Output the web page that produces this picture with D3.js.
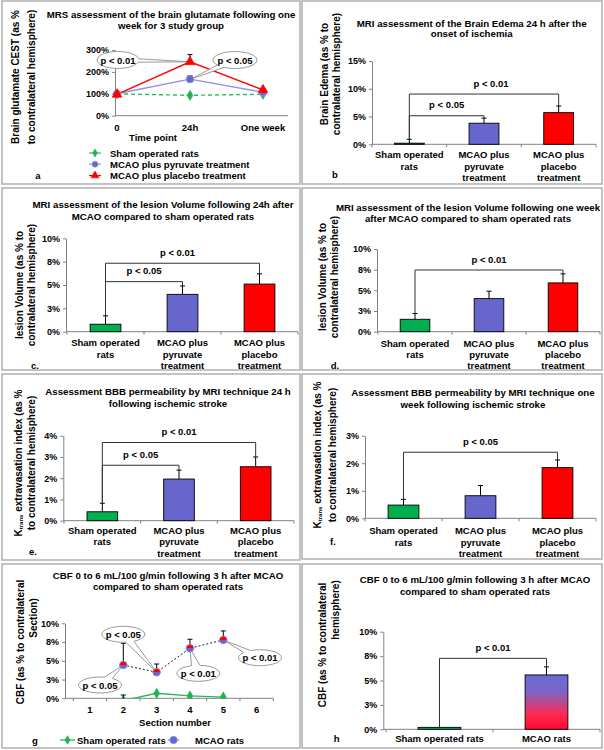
<!DOCTYPE html>
<html><head><meta charset="utf-8">
<script src="https://cdn.jsdelivr.net/npm/d3@7"></script>
<style>body{margin:0;background:#fff}svg{display:block}</style>
</head><body><svg id="c" width="604" height="750"></svg>
<script>
// ---------------- DATA ----------------
const timePoints = ["0", "24h", "One week"];
const glutTicks = [0, 1, 2, 3];
const glutSham = [1.00, 0.93, 0.98];
const glutPyruvate = [1.00, 1.67, 1.07];
const glutPyruvateErr = [0.02, 0.15, 0.04];
const glutPlacebo = [0.97, 2.46, 1.18];
const glutPlaceboErr = [0.03, 0.33, 0.06];
const glutLegend = ["Sham operated rats", "MCAO plus pyruvate treatment", "MCAO plus placebo treatment"];

const groups3 = ["Sham operated\nrats", "MCAO plus\npyruvate\ntreatment", "MCAO plus\nplacebo\ntreatment"];
const edema = [0.002, 0.038, 0.057];
const edemaErr = [0.007, 0.009, 0.012];
const lesion24 = [0.008, 0.040, 0.051];
const lesion24Err = [0.009, 0.009, 0.011];
const lesionWeek = [0.015, 0.040, 0.059];
const lesionWeekErr = [0.007, 0.009, 0.011];
const ktrans24 = [0.0042, 0.0196, 0.0254];
const ktrans24Err = [0.0040, 0.0042, 0.0046];
const ktransWeek = [0.0048, 0.0082, 0.0184];
const ktransWeekErr = [0.0021, 0.0037, 0.0028];

const sections = ["1", "2", "3", "4", "5", "6"];
const cbfMcao = [null, 0.0444, 0.0347, 0.0667, 0.0778, null];
const cbfMcaoErr = [null, 0.029, 0.011, 0.012, 0.012, null];
const cbfSham = [null, -0.003, 0.0067, 0.0031, 0.0017, null];
const cbfShamErr = [null, 0.0074, 0, 0, 0, null];
const cbfLegend = ["Sham operated rats", "MCAO rats"];

const groups2 = ["Sham operated rats", "MCAO rats"];
const cbfBars = [0.002, 0.0557];
const cbfBarsErr = [0, 0.0083];

const pct10 = [0, 0.025, 0.05, 0.075, 0.1];

// ---------------- HELPERS ----------------
const FONT = '"Liberation Sans", Arial, Helvetica, sans-serif';
const GREEN = "#00b050", BLUE = "#6666cc", RED = "#ff0000", AX = "#808080";
const svg = d3.select("#c");
const defs = svg.append("defs");

const gh = defs.append("linearGradient").attr("id", "gh").attr("x1", 0).attr("y1", 0).attr("x2", 0).attr("y2", 1);
[[0, "#6b6bd2"], [0.3, "#7a66c8"], [0.72, "#ff2a55"], [1, "#ff0830"]].forEach(s => gh.append("stop").attr("offset", s[0]).attr("stop-color", s[1]));
const gm = defs.append("linearGradient").attr("id", "gm").attr("x1", 0).attr("y1", 0).attr("x2", 0).attr("y2", 1);
[[0, RED], [0.5, RED], [0.5, BLUE], [1, BLUE]].forEach(s => gm.append("stop").attr("offset", s[0]).attr("stop-color", s[1]));

function T(g, x, y, s, size, anchor) {
  return g.append("text").attr("x", x).attr("y", y).attr("text-anchor", anchor || "middle")
    .attr("dominant-baseline", "central").attr("font-size", size).attr("font-weight", "bold")
    .attr("font-family", FONT).attr("fill", "#000").text(s);
}
function yTitle(g, arr, size) {
  arr.forEach(([x, cy, s]) => {
    const t = g.append("text").attr("transform", `translate(${x},${cy}) rotate(-90)`)
      .attr("text-anchor", "middle").attr("dominant-baseline", "central")
      .attr("font-size", size || 10).attr("font-weight", "bold").attr("font-family", FONT);
    if (Array.isArray(s)) s.forEach(p => { const ts = t.append("tspan").text(p.t); if (p.sub) ts.attr("font-size", 6).attr("baseline-shift", "sub"); });
    else t.text(s);
  });
}
function frame(x, y, w, h) {
  svg.append("rect").attr("x", x).attr("y", y).attr("width", w).attr("height", h)
    .attr("fill", "none").attr("stroke", "#b4b4b4").attr("stroke-width", 1.6);
}
function leftAxis(g, y, x0, ticks, fmt) {
  const a = g.append("g").attr("transform", `translate(${x0},0)`)
    .call(d3.axisLeft(y).tickValues(ticks).tickFormat(fmt).tickSize(3).tickSizeOuter(0).tickPadding(3));
  a.attr("font-family", FONT).attr("font-size", 9).attr("font-weight", "bold");
  a.select(".domain").attr("stroke", AX);
  a.selectAll(".tick line").attr("stroke", AX);
  a.selectAll(".tick text").attr("fill", "#000");
  return a;
}
function errBar(g, x, y0, y1) {
  g.append("line").attr("x1", x).attr("x2", x).attr("y1", y0).attr("y2", y1).attr("stroke", "#000").attr("stroke-width", 1);
  g.append("line").attr("x1", x - 2.5).attr("x2", x + 2.5).attr("y1", y1).attr("y2", y1).attr("stroke", "#000").attr("stroke-width", 1);
}
function callout(g, cx, cy, rx, ry, tx, ty, label) {
  const th = Math.atan2((ty - cy) / ry, (tx - cx) / rx), d = 0.2;
  const p = a => [cx + rx * Math.cos(a), cy + ry * Math.sin(a)];
  const [x1, y1] = p(th + d), [x2, y2] = p(th - d);
  g.append("path").attr("d", `M${x1},${y1}A${rx},${ry} 0 1 1 ${x2},${y2}L${tx},${ty}Z`)
    .attr("fill", "#fff").attr("stroke", "#9a9a9a").attr("stroke-width", 1);
  T(g, cx, cy, label, 9.5);
}
function marker(g, type, x, y, fill, stroke, scale) {
  const k = scale || 1;
  if (type === "circle") {
    g.append("circle").attr("cx", x).attr("cy", y).attr("r", 3.8 * k).attr("fill", fill).attr("stroke", stroke || "#9999ee").attr("stroke-width", 0.8);
  } else {
    const sym = type === "diamond" ? d3.symbolDiamond : d3.symbolTriangle;
    const size = (type === "diamond" ? 30 : 42) * k * k;
    g.append("path").attr("d", d3.symbol().type(sym).size(size)()).attr("transform", `translate(${x},${y})`)
      .attr("fill", fill).attr("stroke", stroke || fill).attr("stroke-width", 0.6);
  }
}

function barPanel(c) {
  const g = svg.append("g");
  c.title.forEach((s, i) => T(g, c.titleX, c.titleY[i], s, 9.7));
  const y = d3.scaleLinear().domain(c.yDomain).range(c.yRange);
  const x = d3.scaleBand().domain(c.cats).range(c.xRange);
  leftAxis(g, y, c.axisX, c.ticks, d3.format(".0%"));
  g.append("line").attr("x1", c.axisX).attr("x2", c.xRange[1]).attr("y1", y(0)).attr("y2", y(0)).attr("stroke", AX);
  const bounds = c.cats.map(k => x(k)).concat([x(c.cats[c.cats.length - 1]) + x.bandwidth()]);
  bounds.forEach(b => g.append("line").attr("x1", b).attr("x2", b).attr("y1", y(0)).attr("y2", y(0) + 3).attr("stroke", AX));
  const bw = x.bandwidth() * 0.4;
  const cx = k => x(k) + x.bandwidth() / 2;
  c.cats.forEach((k, i) => {
    g.append("rect").attr("x", cx(k) - bw / 2).attr("y", y(c.values[i])).attr("width", bw)
      .attr("height", y(0) - y(c.values[i])).attr("fill", c.colors[i]).attr("stroke", "#000").attr("stroke-width", 0.9);
    if (c.errs[i] > 0) errBar(g, cx(k), y(c.values[i]), y(c.values[i] + c.errs[i]));
    k.split("\n").forEach((s, j) => T(g, cx(k), c.labelY[j], s, 9.5));
  });
  c.brackets.forEach(b => {
    const ka = c.cats[b.a], kb = c.cats[b.b];
    const ya = y(c.values[b.a] + c.errs[b.a]), yb = y(c.values[b.b] + c.errs[b.b]), yl = y(b.level);
    g.append("path").attr("d", `M${cx(ka)},${ya}V${yl}H${cx(kb)}V${yb}`).attr("fill", "none").attr("stroke", "#333").attr("stroke-width", 1);
    T(g, (cx(ka) + cx(kb)) / 2 + (b.dx || 0), yl - 11, b.label, 9.5);
  });
  yTitle(g, c.yTitle, 10);
  T(g, c.letter[1], c.letter[2], c.letter[0], 9.5);
}

// ---------------- FRAMES ----------------
[[2, 1, 298, 183], [302, 1, 300, 183], [2, 188, 298, 182], [302, 188, 300, 182],
 [2, 374, 298, 186], [302, 374, 300, 185], [2, 564, 298, 184], [302, 564, 300, 184]].forEach(f => frame(...f));

// ---------------- PANEL A ----------------
(function () {
  const g = svg.append("g");
  ["MRS assessment of the brain glutamate following  one", "week for 3 study group"].forEach((s, i) => T(g, 171, [14, 25][i], s, 9.7));
  const y = d3.scaleLinear().domain([0, 3]).range([115.7, 50]);
  const x = d3.scalePoint().domain(timePoints).range([117, 263]);
  leftAxis(g, y, 115, glutTicks, d3.format(".0%"));
  g.append("line").attr("x1", 115).attr("x2", 288).attr("y1", y(0)).attr("y2", y(0)).attr("stroke", AX);
  timePoints.forEach(t => T(g, x(t), 127, t, 9.5));
  T(g, 153, 137.5, "Time point", 9.5);
  yTitle(g, [[15, 77, "Brain glutamate CEST (as %"], [31, 77, "to contralateral hemisphere)"]], 10);
  const line = d3.line().x((d, i) => x(timePoints[i])).y(d => y(d));
  const series = [
    { v: glutSham, e: null, color: "#22c05a", dash: "4,3", m: "diamond", mf: "#22b050", ms: "#22b050" },
    { v: glutPyruvate, e: glutPyruvateErr, color: "#8f8fee", dash: null, m: "circle", mf: BLUE, ms: "#9a9af0" },
    { v: glutPlacebo, e: glutPlaceboErr, color: RED, dash: null, m: "triangle", mf: RED, ms: RED }
  ];
  series.forEach(s => {
    g.append("path").attr("d", line(s.v)).attr("fill", "none").attr("stroke", s.color).attr("stroke-width", 1.4)
      .attr("stroke-dasharray", s.dash);
    if (s.e) s.v.forEach((v, i) => errBar(g, x(timePoints[i]), y(v), y(v + s.e[i])));
  });
  callout(g, 118, 60, 21, 8.5, x(timePoints[1]), y(glutPlacebo[1]), "p < 0.01");
  callout(g, 235, 60, 22, 8.5, x(timePoints[1]) + 1, y(glutPyruvate[1]), "p < 0.05");
  series.forEach(s => s.v.forEach((v, i) => marker(g, s.m, x(timePoints[i]), y(v), s.mf, s.ms)));
  glutLegend.forEach((name, i) => {
    const ly = [153, 164.2, 175.6][i], s = series[i];
    g.append("line").attr("x1", 89).attr("x2", 101).attr("y1", ly).attr("y2", ly).attr("stroke", s.color).attr("stroke-width", 1.2);
    marker(g, s.m, 95, ly, s.mf, s.ms, 0.8);
    T(g, 110, ly, name, 9.5, "start");
  });
  T(g, 38, 175, "a", 9.5);
})();

// ---------------- BAR PANELS ----------------
barPanel({
  title: ["MRI assessment of the Brain Edema 24 h after the", "onset of ischemia"], titleX: 471.7, titleY: [23, 33.5],
  cats: groups3, values: edema, errs: edemaErr, colors: [GREEN, BLUE, RED],
  yDomain: [0, 0.15], ticks: [0, 0.05, 0.1, 0.15], yRange: [144.3, 61], axisX: 372, xRange: [372, 596],
  labelY: [154.3, 166, 177.3],
  brackets: [{ a: 0, b: 1, level: 0.0514, label: "p < 0.05" }, { a: 0, b: 2, level: 0.0905, label: "p < 0.01", dx: 7 }],
  yTitle: [[324, 74, "Brain Edema (as % to"], [336, 74, "contralateral hemisphere)"]],
  letter: ["b", 335, 174]
});
barPanel({
  title: ["MRI assessment of the lesion Volume following 24h after", "MCAO compared to sham operated rats"], titleX: 163, titleY: [204.3, 216],
  cats: groups3, values: lesion24, errs: lesion24Err, colors: [GREEN, BLUE, RED],
  yDomain: [0, 0.1], ticks: pct10, yRange: [331.7, 238.3], axisX: 66, xRange: [67, 298],
  labelY: [342.7, 354, 365.3],
  brackets: [{ a: 0, b: 1, level: 0.0536, label: "p < 0.05" }, { a: 0, b: 2, level: 0.0733, label: "p < 0.01", dx: -5 }],
  yTitle: [[19, 285, "lesion Volume  (as % to"], [31, 285, "contralateral hemisphere)"]],
  letter: ["c.", 35, 365.7]
});
barPanel({
  title: ["MRI assessment of the lesion Volume following one week", "after MCAO compared to sham operated rats"], titleX: 468, titleY: [207.7, 218.3],
  cats: groups3, values: lesionWeek, errs: lesionWeekErr, colors: [GREEN, BLUE, RED],
  yDomain: [0, 0.1], ticks: pct10, yRange: [331.7, 249], axisX: 377, xRange: [378, 600],
  labelY: [343.3, 354.5, 365.5],
  brackets: [{ a: 0, b: 2, level: 0.0746, label: "p < 0.01" }],
  yTitle: [[322, 277, "lesion Volume  (as % to"], [334, 277, "contralateral hemisphere)"]],
  letter: ["d.", 335, 365]
});
barPanel({
  title: ["Assessment BBB permeability by MRI technique 24 h", "following ischemic stroke"], titleX: 168, titleY: [391.7, 403.3],
  cats: groups3, values: ktrans24, errs: ktrans24Err, colors: [GREEN, BLUE, RED],
  yDomain: [0, 0.04], ticks: [0, 0.01, 0.02, 0.03, 0.04], yRange: [520.7, 435.7], axisX: 63.3, xRange: [64, 294],
  labelY: [530, 541.7, 553.3],
  brackets: [{ a: 0, b: 1, level: 0.0261, label: "p < 0.05" }, { a: 0, b: 2, level: 0.0368, label: "p < 0.01" }],
  yTitle: [[18, 463, [{ t: "K" }, { t: "trans", sub: true }, { t: " extravasation index  (as %" }]], [31, 463, "to contralateral hemisphere)"]],
  letter: ["e.", 33, 551]
});
barPanel({
  title: ["Assessment BBB permeability by MRI technique one", "week following ischemic stroke"], titleX: 473, titleY: [392.7, 404],
  cats: groups3, values: ktransWeek, errs: ktransWeekErr, colors: [GREEN, BLUE, RED],
  yDomain: [0, 0.03], ticks: [0, 0.01, 0.02, 0.03], yRange: [518.3, 435.7], axisX: 365, xRange: [365, 596],
  labelY: [530.7, 542.3, 553.5],
  brackets: [{ a: 0, b: 2, level: 0.024, label: "p < 0.05" }],
  yTitle: [[317, 455, [{ t: "K" }, { t: "trans", sub: true }, { t: " extravasation index  (as %" }]], [332, 455, "to contralateral hemisphere)"]],
  letter: ["f.", 333, 541.7]
});
barPanel({
  title: ["CBF 0 to 6 mL/100 g/min following 3 h after MCAO", "compared to sham operated rats"], titleX: 475, titleY: [579.3, 591],
  cats: groups2, values: cbfBars, errs: cbfBarsErr, colors: [GREEN, "url(#gh)"],
  yDomain: [0, 0.1], ticks: pct10, yRange: [729.3, 631.7], axisX: 383.3, xRange: [386, 600],
  labelY: [738.3],
  brackets: [{ a: 0, b: 1, level: 0.0727, label: "p < 0.01" }],
  yTitle: [[322, 645, "CBF  (as % to contralateral"], [335, 610, "hemisphere)"]],
  letter: ["h", 336.7, 738.3]
});

// ---------------- PANEL G ----------------
(function () {
  const g = svg.append("g");
  ["CBF 0 to 6 mL/100 g/min following 3 h after MCAO", "compared to sham operated rats"].forEach((s, i) => T(g, 168, [575, 586.7][i], s, 9.7));
  const y = d3.scaleLinear().domain([0, 0.1]).range([698.3, 623.3]);
  const x = d3.scaleBand().domain(sections).range([73.3, 273.3]);
  const cx = s => x(s) + x.bandwidth() / 2;
  leftAxis(g, y, 65, pct10, d3.format(".0%"));
  g.append("line").attr("x1", 65).attr("x2", 273.3).attr("y1", y(0)).attr("y2", y(0)).attr("stroke", AX);
  sections.concat(["end"]).forEach((s, i) => {
    const b = i < sections.length ? x(s) : x(sections[sections.length - 1]) + x.bandwidth();
    g.append("line").attr("x1", b).attr("x2", b).attr("y1", y(0)).attr("y2", y(0) + 3).attr("stroke", AX);
  });
  sections.forEach(s => T(g, cx(s), 709, s, 9.5));
  T(g, 175, 722.3, "Section number", 9.5);
  yTitle(g, [[20, 642, "CBF  (as % to contralateral"], [33, 618, "Section)"]], 10);
  defs.append("clipPath").attr("id", "clipG").append("rect").attr("x", 65).attr("y", 600).attr("width", 210).attr("height", y(0) - 600 + 0.5);
  const line = d3.line().defined(d => d != null).x((d, i) => cx(sections[i])).y(d => y(d));
  const cl = g.append("g").attr("clip-path", "url(#clipG)");
  cl.append("path").attr("d", line(cbfSham)).attr("fill", "none").attr("stroke", "#22b858").attr("stroke-width", 1.3);
  cbfSham.forEach((v, i) => { if (v != null && cbfShamErr[i] > 0) errBar(g, cx(sections[i]), y(Math.max(v, 0)), y(v + cbfShamErr[i])); });
  g.append("path").attr("d", line(cbfMcao)).attr("fill", "none").attr("stroke", "#222").attr("stroke-width", 1).attr("stroke-dasharray", "2,2");
  cbfMcao.forEach((v, i) => { if (v != null) errBar(g, cx(sections[i]), y(v), y(v + cbfMcaoErr[i])); });
  callout(g, 123.3, 634.3, 21.5, 8, cx("3"), y(cbfMcao[2]), "p < 0.05");
  callout(g, 100, 685, 21.5, 8, cx("2"), y(cbfMcao[1]), "p < 0.05");
  callout(g, 198.3, 673.3, 21.5, 8, cx("4"), y(cbfMcao[3]), "p < 0.01");
  callout(g, 260, 657.7, 21.5, 8, cx("5"), y(cbfMcao[4]), "p < 0.01");
  cbfSham.forEach((v, i) => { if (v != null) marker(cl, "diamond", cx(sections[i]), y(v), "#22b050", "#22b050"); });
  cbfMcao.forEach((v, i) => { if (v != null) marker(g, "circle", cx(sections[i]), y(v), "url(#gm)", "#8a8ae0"); });
  // legend
  g.append("line").attr("x1", 60).attr("x2", 75).attr("y1", 740).attr("y2", 740).attr("stroke", "#22b858").attr("stroke-width", 1.3);
  marker(g, "diamond", 67.5, 740, "#22b050", "#22b050", 0.85);
  T(g, 77, 740, cbfLegend[0], 9.5, "start");
  g.append("line").attr("x1", 168).attr("x2", 179).attr("y1", 740).attr("y2", 740).attr("stroke", "#777").attr("stroke-width", 1);
  marker(g, "circle", 173.5, 740, BLUE, "#9a9af0");
  T(g, 195, 740, cbfLegend[1], 9.5, "start");
  T(g, 35, 740, "g", 9.5);
})();
</script></body></html>
